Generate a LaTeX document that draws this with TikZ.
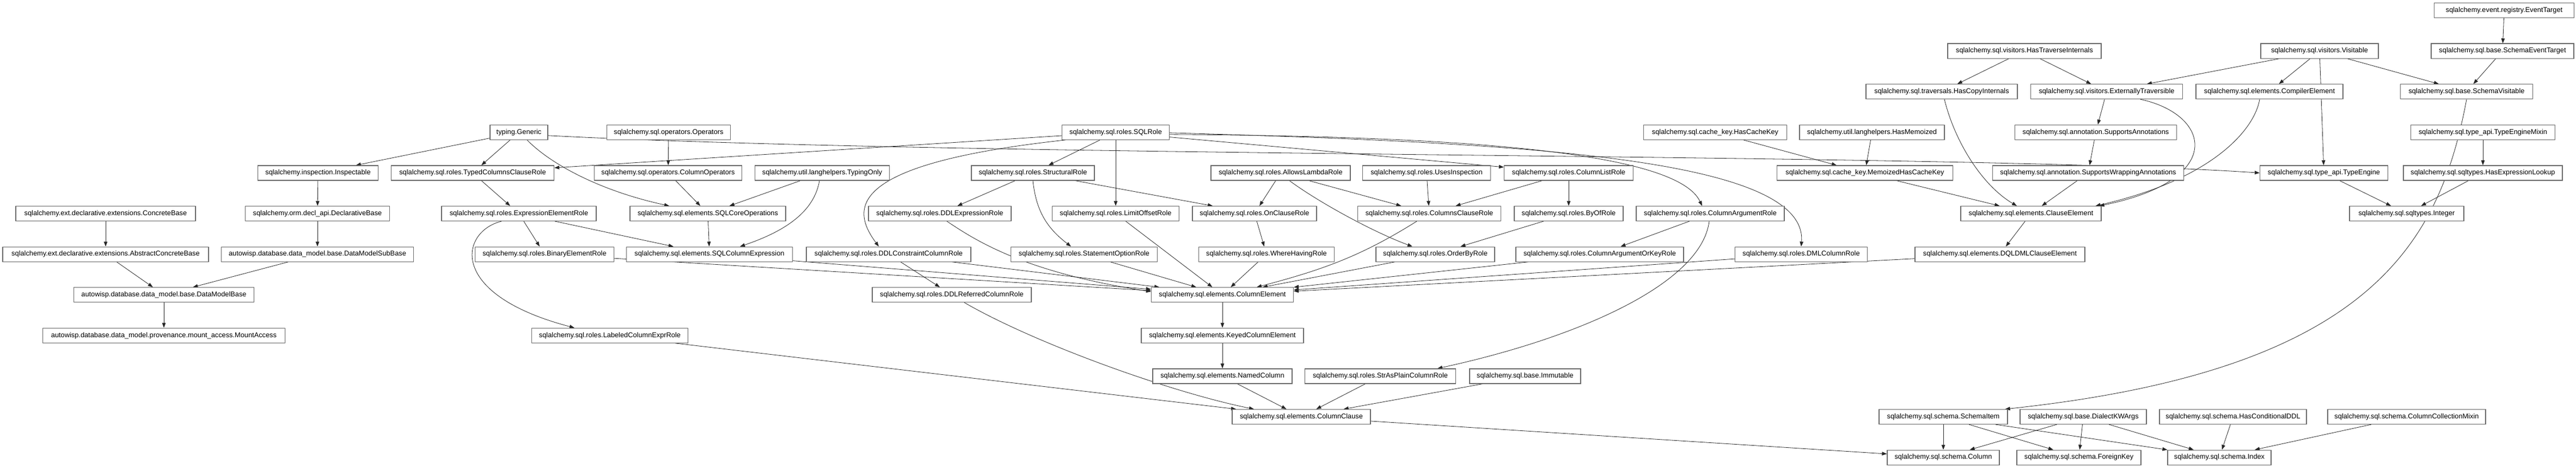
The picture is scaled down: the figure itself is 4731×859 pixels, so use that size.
\documentclass[tikz,border=0pt]{standalone}
\usepackage{fontspec}
\setmainfont{Liberation Sans}
\usetikzlibrary{arrows.meta}
\definecolor{boxc}{RGB}{105,105,105}
\pgfdeclarelayer{bg}
\pgfdeclarelayer{paper}
\pgfsetlayers{paper,bg,main}
\newcommand\mkbox[5]{\node[cls,minimum width=#4pt] (#1) at (#2,#3) {#5};}
\begin{document}
\begin{tikzpicture}[x=1pt,y=-1pt,
  cls/.style={draw=boxc,line width=1.2pt,minimum height=27pt,inner sep=0pt,fill=white,font=\fontsize{12.8}{15}\selectfont},
  inh/.style={-{Triangle[length=9pt,width=6.5pt]},line width=0.8pt,draw=black!85}]
\begin{pgfonlayer}{paper}
\fill[white] (0,0) rectangle (4731,859);
\end{pgfonlayer}
\useasboundingbox (0,0) rectangle (4731,859);
% row 0
\mkbox{eventtarget}{4599}{19}{257}{sqlalchemy.event.registry.EventTarget}
% row 1
\mkbox{hastrav}{3718}{93.6}{282}{sqlalchemy.sql.visitors.HasTraverseInternals}
\mkbox{visitable}{4260}{93.6}{216}{sqlalchemy.sql.visitors.Visitable}
\mkbox{schemaevt}{4596}{93.6}{262}{sqlalchemy.sql.base.SchemaEventTarget}
% row 2
\mkbox{hascopy}{3566}{168.2}{278}{sqlalchemy.sql.traversals.HasCopyInternals}
\mkbox{exttrav}{3869}{168.2}{279}{sqlalchemy.sql.visitors.ExternallyTraversible}
\mkbox{compilerel}{4168}{168.2}{270}{sqlalchemy.sql.elements.CompilerElement}
\mkbox{schemavis}{4530}{168.2}{243}{sqlalchemy.sql.base.SchemaVisitable}
% row 3
\mkbox{generic}{953}{242.8}{106}{typing.Generic}
\mkbox{operators}{1228}{242.8}{227}{sqlalchemy.sql.operators.Operators}
\mkbox{sqlrole}{2049}{242.8}{197}{sqlalchemy.sql.roles.SQLRole}
\mkbox{hascachekey}{3150}{242.8}{263}{sqlalchemy.sql.cache\_key.HasCacheKey}
\mkbox{hasmemo}{3438}{242.8}{266}{sqlalchemy.util.langhelpers.HasMemoized}
\mkbox{suppann}{3849}{242.8}{297}{sqlalchemy.sql.annotation.SupportsAnnotations}
\mkbox{typemixin}{4560}{242.8}{265}{sqlalchemy.sql.type\_api.TypeEngineMixin}
% row 4
\mkbox{inspectable}{584}{317.4}{221}{sqlalchemy.inspection.Inspectable}
\mkbox{typedcols}{868}{317.4}{299}{sqlalchemy.sql.roles.TypedColumnsClauseRole}
\mkbox{colops}{1227}{317.4}{271}{sqlalchemy.sql.operators.ColumnOperators}
\mkbox{typingonly}{1510}{317.4}{247}{sqlalchemy.util.langhelpers.TypingOnly}
\mkbox{structural}{1897}{317.4}{226}{sqlalchemy.sql.roles.StructuralRole}
\mkbox{allowslambda}{2352}{317.4}{256}{sqlalchemy.sql.roles.AllowsLambdaRole}
\mkbox{usesinsp}{2620}{317.4}{235}{sqlalchemy.sql.roles.UsesInspection}
\mkbox{collist}{2881}{317.4}{237}{sqlalchemy.sql.roles.ColumnListRole}
\mkbox{memohck}{3425}{317.4}{323}{sqlalchemy.sql.cache\_key.MemoizedHasCacheKey}
\mkbox{suppwrap}{3835}{317.4}{351}{sqlalchemy.sql.annotation.SupportsWrappingAnnotations}
\mkbox{typeengine}{4268}{317.4}{235}{sqlalchemy.sql.type\_api.TypeEngine}
\mkbox{hasexpr}{4560}{317.4}{292}{sqlalchemy.sql.sqltypes.HasExpressionLookup}
% row 5
\mkbox{concretebase}{194}{392}{330}{sqlalchemy.ext.declarative.extensions.ConcreteBase}
\mkbox{declbase}{583}{392}{265}{sqlalchemy.orm.decl\_api.DeclarativeBase}
\mkbox{exprelem}{953}{392}{284}{sqlalchemy.sql.roles.ExpressionElementRole}
\mkbox{sqlcoreops}{1300}{392}{286}{sqlalchemy.sql.elements.SQLCoreOperations}
\mkbox{ddlexpr}{1726}{392}{262}{sqlalchemy.sql.roles.DDLExpressionRole}
\mkbox{limitoffset}{2049}{392}{233}{sqlalchemy.sql.roles.LimitOffsetRole}
\mkbox{onclause}{2304}{392}{228}{sqlalchemy.sql.roles.OnClauseRole}
\mkbox{colsclause}{2625}{392}{263}{sqlalchemy.sql.roles.ColumnsClauseRole}
\mkbox{byof}{2881}{392}{200}{sqlalchemy.sql.roles.ByOfRole}
\mkbox{colarg}{3141}{392}{272}{sqlalchemy.sql.roles.ColumnArgumentRole}
\mkbox{clauseel}{3730}{392}{258}{sqlalchemy.sql.elements.ClauseElement}
\mkbox{integer}{4420}{392}{210}{sqlalchemy.sql.sqltypes.Integer}
% row 6
\mkbox{abstractcb}{194}{466.6}{378}{sqlalchemy.ext.declarative.extensions.AbstractConcreteBase}
\mkbox{dmsubbase}{583}{466.6}{353}{autowisp.database.data\_model.base.DataModelSubBase}
\mkbox{binaryel}{1000}{466.6}{255}{sqlalchemy.sql.roles.BinaryElementRole}
\mkbox{sqlcolexpr}{1303}{466.6}{305}{sqlalchemy.sql.elements.SQLColumnExpression}
\mkbox{ddlconstr}{1632}{466.6}{302}{sqlalchemy.sql.roles.DDLConstraintColumnRole}
\mkbox{stmtopt}{1991}{466.6}{269}{sqlalchemy.sql.roles.StatementOptionRole}
\mkbox{wherehaving}{2326}{466.6}{249}{sqlalchemy.sql.roles.WhereHavingRole}
\mkbox{orderby}{2636}{466.6}{218}{sqlalchemy.sql.roles.OrderByRole}
\mkbox{colargorkey}{2938}{466.6}{308}{sqlalchemy.sql.roles.ColumnArgumentOrKeyRole}
\mkbox{dmlcol}{3308}{466.6}{243}{sqlalchemy.sql.roles.DMLColumnRole}
\mkbox{dqldml}{3673}{466.6}{312}{sqlalchemy.sql.elements.DQLDMLClauseElement}
% row 7
\mkbox{dmbase}{301}{541.2}{331}{autowisp.database.data\_model.base.DataModelBase}
\mkbox{ddlreferred}{1748}{541.2}{292}{sqlalchemy.sql.roles.DDLReferredColumnRole}
\mkbox{colelem}{2245}{541.2}{261}{sqlalchemy.sql.elements.ColumnElement}
% row 8
\mkbox{mountaccess}{301}{615.8}{445}{autowisp.database.data\_model.provenance.mount\_access.MountAccess}
\mkbox{labeledcol}{1120}{615.8}{287}{sqlalchemy.sql.roles.LabeledColumnExprRole}
\mkbox{keyedcol}{2245}{615.8}{298}{sqlalchemy.sql.elements.KeyedColumnElement}
% row 9
\mkbox{namedcol}{2245}{690.4}{256}{sqlalchemy.sql.elements.NamedColumn}
\mkbox{strasplain}{2535}{690.4}{277}{sqlalchemy.sql.roles.StrAsPlainColumnRole}
\mkbox{immutable}{2801}{690.4}{204}{sqlalchemy.sql.base.Immutable}
% row 10
\mkbox{colclause}{2390}{765}{254}{sqlalchemy.sql.elements.ColumnClause}
\mkbox{schemaitem}{3569}{765}{236}{sqlalchemy.sql.schema.SchemaItem}
\mkbox{dialectkw}{3826}{765}{232}{sqlalchemy.sql.base.DialectKWArgs}
\mkbox{hascondddl}{4101}{765}{270}{sqlalchemy.sql.schema.HasConditionalDDL}
\mkbox{colcollmixin}{4420}{765}{290}{sqlalchemy.sql.schema.ColumnCollectionMixin}
% row 11
\mkbox{column}{3569}{839.6}{206}{sqlalchemy.sql.schema.Column}
\mkbox{foreignkey}{3818}{839.6}{228}{sqlalchemy.sql.schema.ForeignKey}
\mkbox{index}{4076}{839.6}{190}{sqlalchemy.sql.schema.Index}

\begin{pgfonlayer}{bg}
% left cluster
\draw[inh] (concretebase) -- (abstractcb);
\draw[inh] (abstractcb) -- (dmbase);
\draw[inh] (declbase) -- (dmsubbase);
\draw[inh] (dmsubbase) -- (dmbase);
\draw[inh] (dmbase) -- (mountaccess);
\draw[inh] (inspectable) -- (declbase);
\draw[inh] (generic) -- (inspectable);
\draw[inh] (generic) -- (typedcols);
\draw[inh] ([xshift=15pt]generic.south) .. controls (1010,300) and (1100,350) .. ([xshift=-71pt]sqlcoreops.north);
\draw[inh] ([yshift=-6pt]generic.east) .. controls (1800,290) and (3600,280) .. (typeengine.west);
\draw[inh] (sqlrole) -- (typedcols);
\draw[inh] (operators) -- (colops);
\draw[inh] (colops) -- (sqlcoreops);
\draw[inh] (typingonly) -- (sqlcoreops);
\draw[inh] (typedcols) -- (exprelem);
\draw[inh] (exprelem) -- (binaryel);
\draw[inh] (exprelem) -- (sqlcolexpr);
\draw[inh] ([xshift=-32pt]exprelem.south) .. controls (845,425) and (820,540) .. ([xshift=-65pt]labeledcol.north);
\draw[inh] (sqlcoreops) -- (sqlcolexpr);
\draw[inh] ([xshift=-5pt]typingonly.south) .. controls (1495,390) and (1440,425) .. ([xshift=56pt]sqlcolexpr.north);
\draw[inh] (binaryel) -- (colelem);
\draw[inh] (sqlcolexpr) -- (colelem);
\draw[inh] (labeledcol) -- (colclause);
% SQLRole
\draw[inh] ([xshift=7pt]sqlrole.south west) .. controls (1560,300) and (1560,380) .. ([xshift=-18pt]ddlconstr.north);
\draw[inh] (sqlrole) -- (structural);
\draw[inh] (sqlrole) -- (limitoffset);
\draw[inh] (sqlrole) -- (collist);
\draw[inh] ([yshift=-4pt]sqlrole.east) .. controls (2700,250) and (3080,280) .. ([xshift=-15pt]colarg.north);
\draw[inh] ([yshift=-1pt]sqlrole.east) .. controls (2800,262) and (3320,290) .. (dmlcol.north);
\draw[inh] (structural) -- (ddlexpr);
\draw[inh] (structural.south) .. controls (1903,390) and (1925,420) .. ([xshift=-24pt]stmtopt.north);
\draw[inh] (structural) -- (onclause);
\draw[inh] ([xshift=13pt]ddlexpr.south) .. controls (1790,440) and (1880,500) .. ([yshift=6pt]colelem.west);
\draw[inh] (ddlconstr) -- (ddlreferred);
\draw[inh] (ddlconstr) -- (colelem);
\draw[inh] ([xshift=23pt]ddlreferred.south) .. controls (1900,630) and (2150,720) .. ([xshift=-87pt]colclause.north);
\draw[inh] (stmtopt) -- (colelem);
\draw[inh] (limitoffset) -- (colelem);
\draw[inh] (allowslambda) -- (onclause);
\draw[inh] (allowslambda) -- (colsclause);
\draw[inh] ([xshift=16pt]allowslambda.south) .. controls (2420,370) and (2520,425) .. ([xshift=-42pt]orderby.north);
\draw[inh] (usesinsp) -- (colsclause);
\draw[inh] (collist) -- (colsclause);
\draw[inh] (collist) -- (byof);
\draw[inh] (onclause) -- (wherehaving);
\draw[inh] (wherehaving) -- (colelem);
\draw[inh] ([xshift=-23pt]colsclause.south) .. controls (2500,470) and (2430,495) .. ([xshift=63pt]colelem.north);
\draw[inh] (orderby) -- (colelem);
\draw[inh] (byof) -- (orderby);
\draw[inh] (colarg) -- (colargorkey);
\draw[inh] ([xshift=-2pt]colarg.south) .. controls (3125,520) and (2900,620) .. ([xshift=105pt]strasplain.north);
\draw[inh] (colargorkey) -- (colelem);
\draw[inh] (dmlcol) -- (colelem);
\draw[inh] (dqldml) -- (colelem);
\draw[inh] (colelem) -- (keyedcol);
\draw[inh] (keyedcol) -- (namedcol);
\draw[inh] (namedcol) -- (colclause);
\draw[inh] (strasplain) -- (colclause);
\draw[inh] (immutable) -- (colclause);
\draw[inh] (colclause) -- (column);
% clause element cluster
\draw[inh] (clauseel) -- (dqldml);
\draw[inh] (hascachekey) -- (memohck);
\draw[inh] (hasmemo) -- (memohck);
\draw[inh] (memohck) -- (clauseel);
\draw[inh] (hastrav) -- (hascopy);
\draw[inh] (hastrav) -- (exttrav);
\draw[inh] (visitable) -- (exttrav);
\draw[inh] (visitable) -- (compilerel);
\draw[inh] (visitable) -- (schemavis);
\draw[inh] (visitable) -- (typeengine);
\draw[inh] (exttrav) -- (suppann);
\draw[inh] (suppann) -- (suppwrap);
\draw[inh] (suppwrap) -- (clauseel);
\draw[inh] ([xshift=5pt]hascopy.south) .. controls (3590,260) and (3640,340) .. ([xshift=-26pt]clauseel.north);
\draw[inh] ([xshift=62pt]exttrav.south) .. controls (4060,210) and (4090,330) .. ([xshift=-4pt]clauseel.north east);
\draw[inh] ([xshift=-18pt]compilerel.south) .. controls (4140,240) and (4060,330) .. ([xshift=-11pt]clauseel.north east);
% types
\draw[inh] (eventtarget) -- (schemaevt);
\draw[inh] (schemaevt) -- (schemavis);
\draw[inh] (typemixin) -- (hasexpr);
\draw[inh] (typeengine) -- (integer);
\draw[inh] (hasexpr) -- (integer);
% schema
\draw[inh] (schemavis.south) .. controls (4480,450) and (4350,680) .. ([xshift=-5pt]schemaitem.north east);
\draw[inh] (schemaitem) -- (column);
\draw[inh] (schemaitem) -- (foreignkey);
\draw[inh] (schemaitem) -- (index);
\draw[inh] (dialectkw) -- (column);
\draw[inh] (dialectkw) -- (foreignkey);
\draw[inh] (dialectkw) -- (index);
\draw[inh] (hascondddl) -- (index);
\draw[inh] (colcollmixin) -- (index);
\end{pgfonlayer}
\end{tikzpicture}
\end{document}
